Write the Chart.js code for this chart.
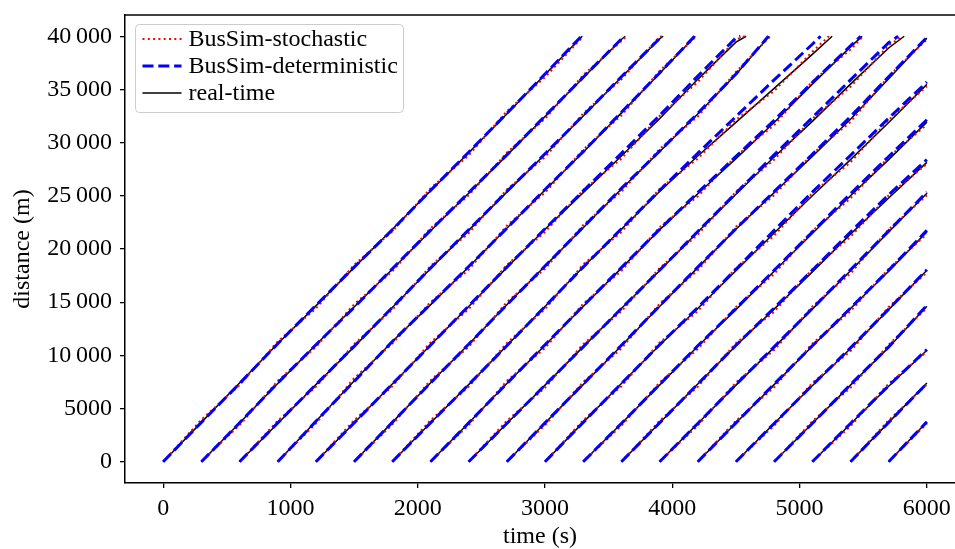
<!DOCTYPE html>
<html>
<head>
<meta charset="utf-8">
<script src="https://cdn.jsdelivr.net/npm/chart.js@4.4.0/dist/chart.umd.min.js"></script>
<style>
  html, body { margin: 0; padding: 0; background: #fff; overflow: hidden; }
  #wrap { width: 955px; height: 549px; }
</style>
</head>
<body>
<div id="wrap"><canvas id="busChart"></canvas></div>
<script>
// departure of each bus (s); positions are logged every 300 s after departure
const startTimes = [0, 300, 600, 900, 1200, 1500, 1800, 2100, 2400, 2700,
                    3000, 3300, 3600, 3900, 4200, 4500, 4800, 5100, 5400, 5700];
const sampleStep = 300;

// time a bus reaches the end of the line (40 000 m); buses not listed are still running at 6000 s
const realArrive  = [3292, 3630, 3928, 4180, 4580, 4761, 5256, 5492, 5822];
const detArrive   = [3285, 3625, 3920, 4175, 4535, 4755, 5165, 5480, 5775];
const stochArrive = [3300, 3640, 3935, 4190, 4570, 4770, 5230, 5500, 5810];

// distance (m) of each bus at every sample; last value of a finished bus is 40000
const realDist = [
  [0, 3700, 7400, 11100, 14650, 18250, 21850, 25450, 29050, 32700, 36400, 40000],
  [0, 3650, 7350, 11000, 14550, 18100, 21700, 25250, 28800, 32450, 36100, 39700, 40000],
  [0, 3600, 7250, 10800, 14500, 18150, 21750, 25350, 28900, 32500, 36150, 39750, 40000],
  [0, 3800, 7600, 11300, 14750, 18300, 21950, 25550, 29100, 32800, 36500, 40000],
  [0, 3650, 7300, 10950, 14600, 18250, 21850, 25300, 28750, 32250, 35950, 39450, 40000],
  [0, 3700, 7400, 11050, 14750, 18400, 22000, 25650, 29150, 32700, 36400, 40000],
  [0, 3650, 7250, 10900, 14600, 18300, 21850, 25400, 28750, 31900, 35100, 38300, 40000],
  [0, 3650, 7350, 10950, 14600, 18200, 21800, 25200, 28500, 31900, 35500, 39000, 40000],
  [0, 3600, 7200, 10800, 14400, 17950, 21600, 25150, 28650, 32000, 35500, 38900, 40000],
  [0, 3650, 7250, 10900, 14600, 18250, 21850, 25300, 28700, 32200, 36000, 39830],
  [0, 3700, 7350, 10950, 14400, 17950, 21500, 25000, 28400, 31900, 35475],
  [0, 3600, 7200, 10850, 14300, 17900, 21450, 25000, 28400, 31930],
  [0, 3650, 7300, 10900, 14350, 17850, 21400, 24800, 28140],
  [0, 3600, 7200, 10750, 14350, 17950, 21600, 25250],
  [0, 3650, 7250, 10850, 14400, 17900, 21610],
  [0, 3600, 7150, 10650, 14300, 18000],
  [0, 3600, 7200, 10750, 14620],
  [0, 3550, 7100, 10480],
  [0, 3700, 7400],
  [0, 3735]
];

const detDist = [
  [0, 3700, 7350, 11100, 14700, 18300, 21800, 25500, 29100, 32750, 36450, 40000],
  [0, 3650, 7400, 11000, 14500, 18150, 21750, 25300, 28850, 32500, 36150, 39750, 40000],
  [0, 3650, 7250, 10850, 14500, 18200, 21800, 25400, 28950, 32550, 36200, 39800, 40000],
  [0, 3800, 7550, 11300, 14800, 18350, 21950, 25600, 29150, 32850, 36550, 40000],
  [0, 3650, 7300, 10950, 14650, 18300, 21900, 25450, 29000, 32550, 36250, 39850, 40000],
  [0, 3700, 7400, 11050, 14750, 18400, 22050, 25700, 29200, 32750, 36450, 40000],
  [0, 3650, 7250, 10900, 14600, 18300, 21900, 25500, 29000, 32450, 35900, 39250, 40000],
  [0, 3650, 7350, 11000, 14650, 18250, 21850, 25300, 28700, 32100, 35650, 39100, 40000],
  [0, 3600, 7200, 10800, 14400, 18000, 21650, 25250, 28850, 32350, 35900, 39400, 40000],
  [0, 3650, 7300, 10950, 14650, 18300, 21900, 25400, 28900, 32450, 36200, 39900],
  [0, 3700, 7350, 11000, 14500, 18100, 21750, 25350, 28800, 32300, 35700],
  [0, 3600, 7250, 10900, 14400, 18000, 21600, 25200, 28700, 32150],
  [0, 3650, 7300, 10950, 14450, 18000, 21600, 25100, 28400],
  [0, 3600, 7250, 10800, 14400, 18050, 21700, 25350],
  [0, 3650, 7300, 10900, 14450, 18000, 21750],
  [0, 3600, 7200, 10700, 14350, 18050],
  [0, 3600, 7250, 10800, 14700],
  [0, 3600, 7150, 10550],
  [0, 3700, 7350],
  [0, 3750]
];

const stochDist = [
  [0, 3950, 7200, 11300, 14400, 18500, 21650, 25700, 28800, 32950, 36150, 40000],
  [0, 3450, 7600, 10800, 14800, 17900, 21950, 25050, 29050, 32250, 36350, 39550, 40000],
  [0, 3850, 7050, 11050, 14300, 18400, 21500, 25600, 28650, 32750, 35950, 39950, 40000],
  [0, 3600, 7850, 11100, 15000, 18050, 22200, 25300, 29350, 32550, 36750, 40000],
  [0, 3900, 7100, 11200, 14350, 18500, 21600, 25550, 28500, 32500, 35700, 39700, 40000],
  [0, 3500, 7650, 10800, 15000, 18150, 22250, 25400, 29400, 32450, 36650, 40000],
  [0, 3900, 7050, 11150, 14350, 18550, 21600, 25650, 28500, 32150, 34850, 38550, 40000],
  [0, 3450, 7600, 10700, 14850, 17950, 22050, 24950, 28750, 31650, 35750, 38750, 40000],
  [0, 3850, 6950, 11050, 14150, 18200, 21350, 25400, 28400, 32250, 35250, 39150, 40000],
  [0, 3450, 7500, 10650, 14850, 18000, 22100, 25050, 28950, 31950, 36250, 39700],
  [0, 3900, 7100, 11200, 14150, 18200, 21250, 25250, 28150, 32150, 35300],
  [0, 3400, 7450, 10600, 14550, 17650, 21700, 24750, 28650, 31700],
  [0, 3850, 7050, 11150, 14100, 18100, 21150, 25050, 28000],
  [0, 3400, 7450, 10500, 14600, 17700, 21850, 25050],
  [0, 3850, 7000, 11100, 14150, 18150, 21400],
  [0, 3400, 7400, 10400, 14550, 17800],
  [0, 3800, 6950, 11000, 14450],
  [0, 3350, 7350, 10350],
  [0, 3900, 7250],
  [0, 3600]
];

const timeTicks = [0, 1000, 2000, 3000, 4000, 5000, 6000];
const distTicks = [0, 5000, 10000, 15000, 20000, 25000, 30000, 35000, 40000];
const distTickLabels = ['0', '5000', '10\u2009000', '15\u2009000', '20\u2009000',
                        '25\u2009000', '30\u2009000', '35\u2009000', '40\u2009000'];

// legend order
const seriesStyles = [
  { label: 'BusSim-stochastic',    rows: stochDist, arrive: stochArrive, color: '#ff0000', width: 2,   dash: [2, 3.3] },
  { label: 'BusSim-deterministic', rows: detDist,   arrive: detArrive,   color: '#0000ff', width: 3,   dash: [11, 4.8] },
  { label: 'real-time',            rows: realDist,  arrive: realArrive,  color: '#000000', width: 1.5, dash: [] }
];
// paint order: the first entry here ends up on top
const paintOrder = [1, 0, 2];

function tripPoints(rows, arrive, bus) {
  const row = rows[bus];
  return row.map((d, j) => {
    const last = j === row.length - 1;
    const t = (last && arrive[bus] != null) ? arrive[bus] : startTimes[bus] + j * sampleStep;
    return { x: t, y: d };
  });
}

const datasets = [];
paintOrder.forEach(k => {
  const s = seriesStyles[k];
  startTimes.forEach((_, bus) => {
    datasets.push({
      label: s.label,
      data: tripPoints(s.rows, s.arrive, bus),
      borderColor: s.color,
      borderWidth: s.width,
      borderDash: s.dash,
      borderCapStyle: 'butt',
      pointRadius: 0,
      showLine: true,
      fill: false,
      tension: 0
    });
  });
});

const FONT = '"Liberation Serif", "Times New Roman", serif';
Chart.defaults.font.family = FONT;
Chart.defaults.font.size = 24;
Chart.defaults.color = '#000';

// top edge of the axes box
const axesFrame = {
  id: 'axesFrame',
  afterDatasetsDraw(chart) {
    const { ctx, chartArea: a } = chart;
    ctx.save();
    ctx.strokeStyle = '#000';
    ctx.lineWidth = 1.5;
    ctx.beginPath();
    ctx.moveTo(a.left - 0.75, a.top);
    ctx.lineTo(a.right, a.top);
    ctx.stroke();
    ctx.restore();
  }
};

// legend box in the upper left corner of the plot
const cornerLegend = {
  id: 'cornerLegend',
  afterDraw(chart) {
    const { ctx, chartArea: a } = chart;
    const x0 = a.left + 10.5, y0 = a.top + 9.5, w = 268, h = 88, r = 4;
    ctx.save();
    ctx.beginPath();
    ctx.moveTo(x0 + r, y0);
    ctx.arcTo(x0 + w, y0, x0 + w, y0 + h, r);
    ctx.arcTo(x0 + w, y0 + h, x0, y0 + h, r);
    ctx.arcTo(x0, y0 + h, x0, y0, r);
    ctx.arcTo(x0, y0, x0 + w, y0, r);
    ctx.closePath();
    ctx.fillStyle = 'rgba(255,255,255,0.8)';
    ctx.fill();
    ctx.strokeStyle = '#cccccc';
    ctx.lineWidth = 1;
    ctx.stroke();

    ctx.font = '24px ' + FONT;
    ctx.textBaseline = 'middle';
    ctx.fillStyle = '#000';
    seriesStyles.forEach((s, i) => {
      const y = y0 + 14.5 + i * 27;
      ctx.beginPath();
      ctx.setLineDash(s.dash);
      ctx.strokeStyle = s.color;
      ctx.lineWidth = s.width;
      ctx.moveTo(x0 + 7, y);
      ctx.lineTo(x0 + 46, y);
      ctx.stroke();
      ctx.setLineDash([]);
      ctx.fillText(s.label, x0 + 53, y + 1);
    });
    ctx.restore();
  }
};

new Chart(document.getElementById('busChart'), {
  type: 'scatter',
  data: { datasets },
  options: {
    responsive: true,
    maintainAspectRatio: false,
    animation: false,
    events: [],
    layout: { padding: { top: 15, right: 0, left: 0, bottom: 0 } },
    plugins: { legend: { display: false }, tooltip: { enabled: false } },
    scales: {
      x: {
        type: 'linear',
        min: -300,
        max: 6221,
        afterBuildTicks: s => { s.ticks = timeTicks.map(v => ({ value: v })); },
        afterFit: s => { s.height = 66; s.paddingLeft = 0; s.paddingRight = 0; },
        ticks: { padding: 6, maxRotation: 0, autoSkip: false, callback: v => String(v) },
        grid: { drawOnChartArea: false, drawTicks: true, tickLength: 5, color: '#000', lineWidth: 1.3 },
        border: { display: true, color: '#000', width: 1.5 },
        title: { display: true, text: 'time (s)', font: { size: 24, lineHeight: 1 }, padding: 0 }
      },
      y: {
        type: 'linear',
        min: -2000,
        max: 42000,
        afterBuildTicks: s => { s.ticks = distTicks.map(v => ({ value: v })); },
        afterFit: s => { s.width = 125; s.paddingTop = 0; s.paddingBottom = 0; },
        ticks: { padding: 8, autoSkip: false, callback: (v, i) => distTickLabels[i] },
        grid: { drawOnChartArea: false, drawTicks: true, tickLength: 5, color: '#000', lineWidth: 1.3 },
        border: { display: true, color: '#000', width: 1.5 },
        title: { display: true, text: 'distance (m)', font: { size: 24, lineHeight: 1.2 }, padding: { top: 8.5, bottom: 0 } }
      }
    }
  },
  plugins: [axesFrame, cornerLegend]
});
</script>
</body>
</html>
